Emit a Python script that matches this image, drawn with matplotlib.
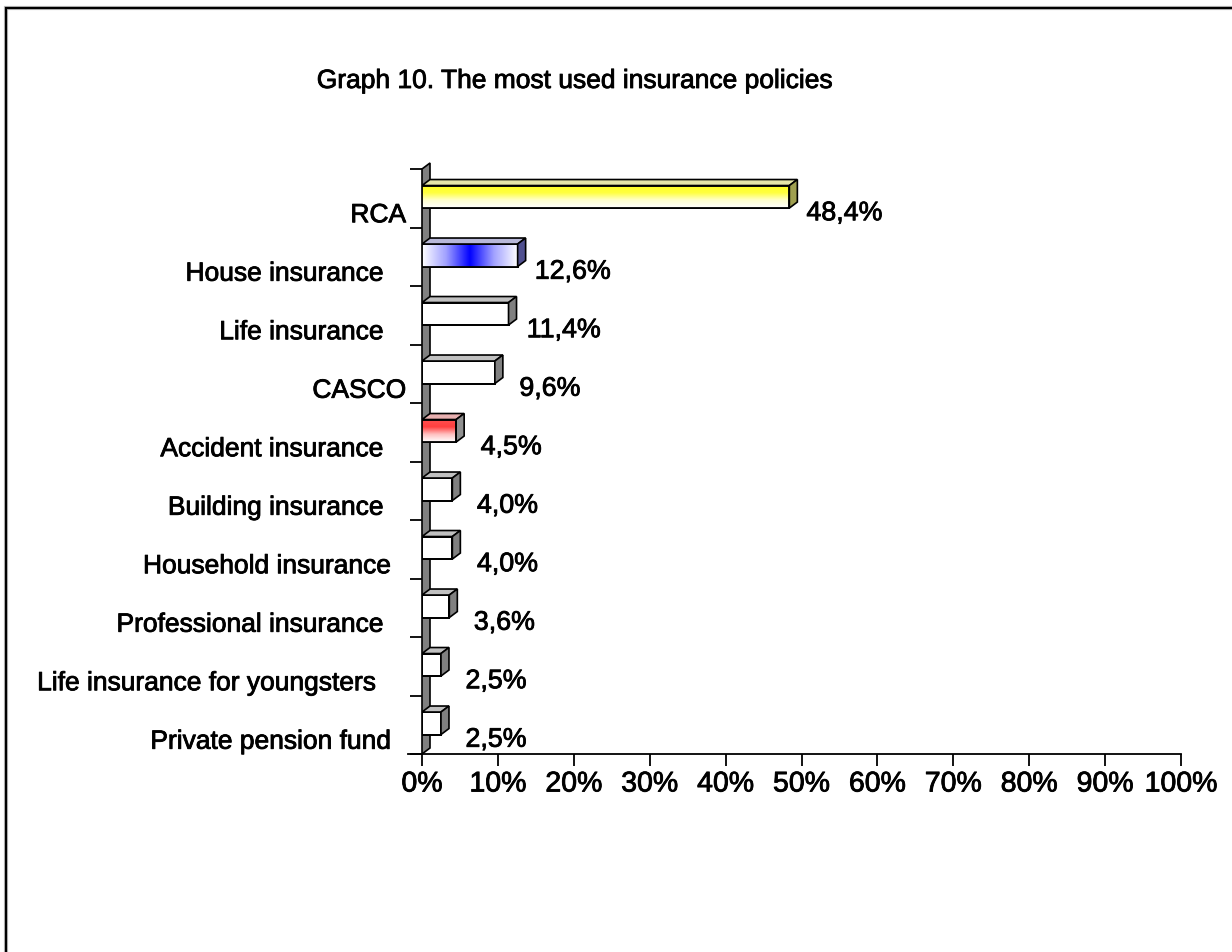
import numpy as np
import matplotlib
matplotlib.use("Agg")
import matplotlib.pyplot as plt
import matplotlib.patheffects as pe
from matplotlib.patches import Polygon, Rectangle
from matplotlib.colors import LinearSegmentedColormap

plt.rcParams['font.family'] = ['Liberation Sans', 'DejaVu Sans']

# Data (bottom to top)
categories = ["Private pension fund  ", "Life insurance for youngsters    ",
              "Professional insurance   ", "Household insurance  ",
              "Building insurance   ", "Accident insurance   ", "CASCO",
              "Life insurance   ", "House insurance   ", "RCA"]
values = [2.5, 2.5, 3.6, 4.0, 4.0, 4.5, 9.6, 11.4, 12.6, 48.4]
value_labels = ["2,5%", "2,5%", "3,6%", "4,0%", "4,0%", "4,5%", "9,6%",
                "11,4%", "12,6%", "48,4%"]
xticks = list(range(0, 101, 10))
xtick_labels = [f"{t}%" for t in xticks]
title = "Graph 10. The most used insurance policies"

W, H, DPI = 1232, 953, 100
fig = plt.figure(figsize=(W / DPI, H / DPI), dpi=DPI)

# slightly heavier text strokes
heavy = [pe.withStroke(linewidth=0.6, foreground="black")]

# axes placement (pixels)
ax_l, ax_r, ax_top, ax_bot = 422, 1181, 170, 755
ax = fig.add_axes([ax_l / W, 1 - ax_bot / H, (ax_r - ax_l) / W, (ax_bot - ax_top) / H])
n = len(values)
ax.set_xlim(0, 100)
ax.set_ylim(0, n)

px_x = 100 / (ax_r - ax_l)      # data units per pixel (x)
px_y = n / (ax_bot - ax_top)     # data units per pixel (y)
dx, dy = 8 * px_x, 6 * px_y      # 3D depth

# side wall
wall = Polygon([(0, 0), (dx, dy), (dx, n + dy), (0, n)], closed=True,
               facecolor="#808080", edgecolor="black", lw=1.2, clip_on=False, zorder=1)
ax.add_patch(wall)

bar_h = 0.385
bar_c = 0.525

front_styles = {9: "yellow", 8: "blue", 5: "red"}
top_colors = {9: "#E6E6A8", 8: "#B8B8D8", 5: "#E8B0B0"}
side_colors = {9: "#A0A050", 8: "#505090", 5: "#909090"}

ys = np.arange(n) + bar_c
ax.barh(ys, values, height=bar_h, color="white", edgecolor="black", lw=1.3, zorder=3)

for i, v in enumerate(values):
    y0 = ys[i] - bar_h / 2
    y1 = ys[i] + bar_h / 2
    style = front_styles.get(i)
    if style == "yellow":
        cmap = LinearSegmentedColormap.from_list("y", ["white", "#FFFFD0", "#FFFF40", "#FFFF20"])
        grad = np.linspace(0, 1, 64).reshape(-1, 1)
        ax.imshow(grad, extent=(0, v, y0, y1), origin="lower", cmap=cmap,
                  aspect="auto", zorder=3.5, interpolation="bilinear")
    elif style == "red":
        cmap = LinearSegmentedColormap.from_list("r", ["white", "#FFC0C0", "#FF4040", "#FF5050"])
        grad = np.linspace(0, 1, 64).reshape(-1, 1)
        ax.imshow(grad, extent=(0, v, y0, y1), origin="lower", cmap=cmap,
                  aspect="auto", zorder=3.5, interpolation="bilinear")
    elif style == "blue":
        cmap = LinearSegmentedColormap.from_list("b", ["white", "#A0A0FF", "#0000FF", "#A0A0FF", "white"])
        grad = np.linspace(0, 1, 128).reshape(1, -1)
        ax.imshow(grad, extent=(0, v, y0, y1), origin="lower", cmap=cmap,
                  aspect="auto", zorder=3.5, interpolation="bilinear")
    # outline of the front face on top of any gradient
    ax.add_patch(Rectangle((0, y0), v, bar_h, fill=False, edgecolor="black", lw=1.3, zorder=4))
    # top face
    ax.add_patch(Polygon([(0, y1), (dx, y1 + dy), (v + dx, y1 + dy), (v, y1)], closed=True,
                         facecolor=top_colors.get(i, "#C0C0C0"), edgecolor="black", lw=1.2, zorder=4))
    # side face
    ax.add_patch(Polygon([(v, y0), (v + dx, y0 + dy), (v + dx, y1 + dy), (v, y1)], closed=True,
                         facecolor=side_colors.get(i, "#808080"), edgecolor="black", lw=1.2, zorder=4))
    # value label
    ax.text(v + 55 * px_x, i + 0.5 - 15 * px_y, value_labels[i], ha="center", va="center",
            fontsize=19.3, color="black", zorder=5, clip_on=False, path_effects=heavy)
    # category label
    ax.text(-16 * px_x, i + 0.5 - 17 * px_y, categories[i], ha="right", va="center",
            fontsize=19, color="black", zorder=5, clip_on=False, path_effects=heavy)

# axes lines and ticks
for s in ["top", "right", "left"]:
    ax.spines[s].set_visible(False)
ax.spines["bottom"].set_linewidth(1.3)
ax.plot([-14 * px_x, 0], [0, 0], color="black", lw=1.3, clip_on=False, zorder=2)
ax.set_xticks(xticks)
ax.set_xticklabels(xtick_labels, fontsize=20.5)
for lbl in ax.get_xticklabels():
    lbl.set_path_effects(heavy)
ax.tick_params(axis="x", direction="out", length=8.6, width=1.3, pad=4)
ax.set_yticks(range(n + 1))
ax.set_yticklabels([])
ax.tick_params(axis="y", direction="out", length=8.6, width=1.3)
ax.patch.set_visible(False)

# chart title
fig.text(575 / W, 1 - 82 / H, title, ha="center", va="center", fontsize=19, path_effects=heavy)

# outer frame
fig.patches.append(Rectangle((6 / W, -0.1), 1.2, 1 - 9 / H + 0.1, transform=fig.transFigure,
                             fill=False, edgecolor="#C0C0C0", lw=3.0, zorder=0))
fig.patches.append(Rectangle((6 / W, -0.1), 1.2, 1 - 9 / H + 0.1, transform=fig.transFigure,
                             fill=False, edgecolor="black", lw=1.6, zorder=1))

fig.savefig("out.png", dpi=DPI, facecolor="white")
